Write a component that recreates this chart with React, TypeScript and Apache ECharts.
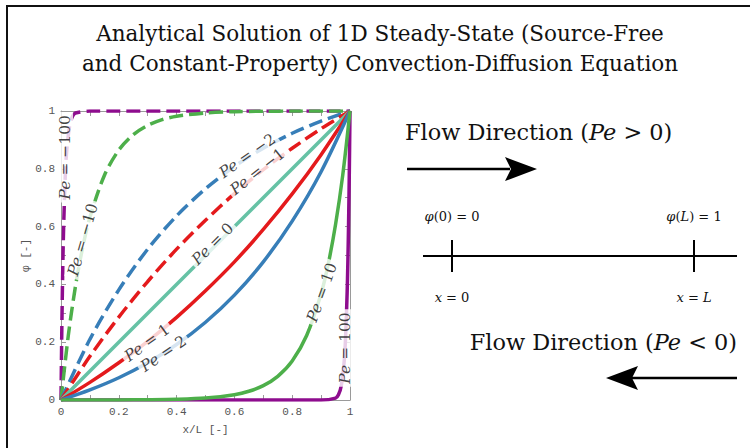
import React, { useEffect, useRef } from "react";
import * as echarts from "echarts";

// Curves: [x/L, phi]
const curvePeM100: [number, number][] = [
  [0, 0], [0.0025, 0.22], [0.005, 0.39], [0.0075, 0.53], [0.01, 0.63], [0.015, 0.78],
  [0.02, 0.865], [0.03, 0.95], [0.04, 0.982], [0.05, 0.993], [0.1, 1], [1, 1],
];
const curvePeM10: [number, number][] = [
  [0, 0], [0.025, 0.221], [0.05, 0.393], [0.075, 0.528], [0.1, 0.632], [0.15, 0.777],
  [0.2, 0.865], [0.25, 0.918], [0.3, 0.95], [0.35, 0.97], [0.4, 0.982], [0.5, 0.993],
  [0.6, 0.9976], [0.7, 0.9991], [0.8, 0.9997], [1, 1],
];
const curvePeM2: [number, number][] = [
  [0, 0], [0.1, 0.21], [0.2, 0.381], [0.3, 0.522], [0.4, 0.637], [0.5, 0.731],
  [0.6, 0.808], [0.7, 0.871], [0.8, 0.923], [0.9, 0.965], [1, 1],
];
const curvePeM1: [number, number][] = [
  [0, 0], [0.1, 0.151], [0.2, 0.287], [0.3, 0.41], [0.4, 0.522], [0.5, 0.622],
  [0.6, 0.714], [0.7, 0.797], [0.8, 0.871], [0.9, 0.939], [1, 1],
];
const curvePe0: [number, number][] = [[0, 0], [1, 1]];
const curvePe1: [number, number][] = [
  [0, 0], [0.1, 0.061], [0.2, 0.129], [0.3, 0.203], [0.4, 0.286], [0.5, 0.378],
  [0.6, 0.478], [0.7, 0.59], [0.8, 0.713], [0.9, 0.849], [1, 1],
];
const curvePe2: [number, number][] = [
  [0, 0], [0.1, 0.035], [0.2, 0.077], [0.3, 0.129], [0.4, 0.192], [0.5, 0.269],
  [0.6, 0.363], [0.7, 0.478], [0.8, 0.619], [0.9, 0.79], [1, 1],
];
const curvePe10: [number, number][] = [
  [0, 0], [0.1, 0.0001], [0.2, 0.0003], [0.3, 0.0009], [0.4, 0.0024], [0.5, 0.0067],
  [0.6, 0.0183], [0.65, 0.0302], [0.7, 0.0498], [0.75, 0.082], [0.8, 0.135], [0.85, 0.223],
  [0.9, 0.368], [0.925, 0.472], [0.95, 0.607], [0.975, 0.779], [1, 1],
];
const curvePe100: [number, number][] = [
  [0, 0], [0.9, 0.00005], [0.95, 0.0067], [0.96, 0.018], [0.97, 0.05], [0.98, 0.135],
  [0.985, 0.223], [0.99, 0.368], [0.9925, 0.472], [0.995, 0.607], [0.9975, 0.779], [1, 1],
];

// Inline label anchors: [x, y, rotation]
const labelPeM100: [number, number, number] = [0.014, 0.84, 90];
const labelPeM10: [number, number, number] = [0.076, 0.555, 74];
const labelPeM2: [number, number, number] = [0.645, 0.845, 35];
const labelPeM1: [number, number, number] = [0.68, 0.79, 38];
const labelPe0: [number, number, number] = [0.525, 0.54, 45];
const labelPe1: [number, number, number] = [0.298, 0.198, 36];
const labelPe2: [number, number, number] = [0.355, 0.16, 34];
const labelPe10: [number, number, number] = [0.903, 0.372, 70];
const labelPe100: [number, number, number] = [0.983, 0.18, 90];

const xTicks = [0, 0.2, 0.4, 0.6, 0.8, 1];

const PURPLE = "#8e0c8e";
const GREEN = "#4daf4a";
const BLUE = "#377eb8";
const RED = "#e41a1c";
const TEAL = "#66c2a5";

const curves = [
  { pe: "\u2212100", data: curvePeM100, color: PURPLE, dashed: true, label: labelPeM100 },
  { pe: "\u221210", data: curvePeM10, color: GREEN, dashed: true, label: labelPeM10 },
  { pe: "\u22122", data: curvePeM2, color: BLUE, dashed: true, label: labelPeM2 },
  { pe: "\u22121", data: curvePeM1, color: RED, dashed: true, label: labelPeM1 },
  { pe: "0", data: curvePe0, color: TEAL, dashed: false, label: labelPe0 },
  { pe: "1", data: curvePe1, color: RED, dashed: false, label: labelPe1 },
  { pe: "2", data: curvePe2, color: BLUE, dashed: false, label: labelPe2 },
  { pe: "100", data: curvePe100, color: PURPLE, dashed: false, label: labelPe100 },
  { pe: "10", data: curvePe10, color: GREEN, dashed: false, label: labelPe10 },
];

const SERIF = "'DejaVu Serif', 'Liberation Serif', serif";
const MONO = "'Liberation Mono', 'DejaVu Sans Mono', monospace";
const AXIS_GRAY = "#9a9a9a";
const LABEL_GRAY = "#555";

export default function App() {
  const ref = useRef<HTMLDivElement>(null);
  useEffect(() => {
    document.body.style.margin = "0";
    const chart = echarts.init(ref.current!, undefined, { renderer: "svg" });

    const axisCommon = (withLabels: boolean, pos: string) => ({
      type: "value",
      min: 0,
      max: 1,
      interval: 0.2,
      position: pos,
      axisLine: { show: true, onZero: false, lineStyle: { color: AXIS_GRAY, width: 1 } },
      axisTick: { show: true, inside: true, length: 5, lineStyle: { color: AXIS_GRAY } },
      minorTick: { show: true, splitNumber: 2, length: 5, lineStyle: { color: AXIS_GRAY } },
      splitLine: { show: false },
      minorSplitLine: { show: false },
      axisLabel: {
        show: withLabels,
        fontFamily: MONO,
        fontSize: 11,
        color: LABEL_GRAY,
        margin: 6,
      },
    });

    const lineSeries = curves.map((c) => ({
      type: "line",
      name: "Pe = " + c.pe,
      data: c.data,
      showSymbol: false,
      smooth: 0.3,
      lineStyle: { color: c.color, width: 3.5, type: c.dashed ? [14, 6] : "solid" },
      z: 2,
    }));

    const labelSeries = curves.map((c) => ({
      type: "scatter",
      data: [[c.label[0], c.label[1]]],
      symbolSize: 0,
      silent: true,
      z: 5,
      label: {
        show: true,
        position: "inside",
        rotate: c.label[2],
        formatter: "{i|Pe}{n| = " + c.pe + "}",
        backgroundColor: "#fff",
        padding: [0, 3],
        rich: {
          i: { fontFamily: SERIF, fontStyle: "italic", fontSize: 15.5, color: "#111" },
          n: { fontFamily: SERIF, fontSize: 15.5, color: "#111" },
        },
      },
    }));

    const TITLE_FONT = "21.5px " + SERIF;
    const FLOW = 22.4;

    chart.setOption({
      animation: false,
      grid: { left: 61, top: 111, width: 289, height: 289, containLabel: false },
      xAxis: [
        {
          ...axisCommon(true, "bottom"),
          name: "x/L [-]",
          nameLocation: "middle",
          nameGap: 24,
          nameTextStyle: { fontFamily: MONO, fontSize: 11, color: LABEL_GRAY },
          axisLabel: {
            show: true,
            fontFamily: MONO,
            fontSize: 11,
            color: LABEL_GRAY,
            margin: 6,
            customValues: xTicks,
          },
        },
        { ...axisCommon(false, "top") },
      ],
      yAxis: [
        {
          ...axisCommon(true, "left"),
          name: "\u03c6 [-]",
          nameLocation: "middle",
          nameGap: 26,
          nameRotate: 90,
          nameTextStyle: { fontFamily: MONO, fontSize: 11, color: LABEL_GRAY },
        },
        { ...axisCommon(false, "right") },
      ],
      series: [...lineSeries, ...labelSeries],
      graphic: [
        {
          type: "rect",
          shape: { x: 7, y: 6, width: 800, height: 500 },
          style: { fill: "none", stroke: "#111", lineWidth: 2 },
          silent: true,
        },
        {
          type: "text",
          x: 380,
          y: 33,
          style: {
            text: "Analytical Solution of 1D Steady-State (Source-Free",
            font: TITLE_FONT,
            fill: "#111",
            align: "center",
            verticalAlign: "middle",
          },
        },
        {
          type: "text",
          x: 380,
          y: 63,
          style: {
            text: "and Constant-Property) Convection-Diffusion Equation",
            font: TITLE_FONT,
            fill: "#111",
            align: "center",
            verticalAlign: "middle",
          },
        },
        {
          type: "text",
          x: 405,
          y: 132,
          style: {
            text: "Flow Direction ({i|Pe} > 0)",
            font: FLOW + "px " + SERIF,
            fill: "#111",
            align: "left",
            verticalAlign: "middle",
            rich: { i: { font: "italic " + FLOW + "px " + SERIF, fill: "#111" } },
          },
        },
        {
          type: "line",
          shape: { x1: 407, y1: 169, x2: 510, y2: 169 },
          style: { stroke: "#000", lineWidth: 2.5 },
        },
        {
          type: "polygon",
          shape: { points: [[537, 169], [505, 157], [511, 169], [505, 181]] },
          style: { fill: "#000" },
        },
        {
          type: "text",
          x: 452,
          y: 216,
          style: {
            text: "{i|\u03c6}(0) = 0",
            font: "13px " + SERIF,
            fill: "#111",
            align: "center",
            verticalAlign: "middle",
            rich: { i: { font: "italic 13px " + SERIF, fill: "#111" } },
          },
        },
        {
          type: "text",
          x: 694,
          y: 216,
          style: {
            text: "{i|\u03c6}({i|L}) = 1",
            font: "13px " + SERIF,
            fill: "#111",
            align: "center",
            verticalAlign: "middle",
            rich: { i: { font: "italic 13px " + SERIF, fill: "#111" } },
          },
        },
        {
          type: "line",
          shape: { x1: 423, y1: 256, x2: 737, y2: 256 },
          style: { stroke: "#000", lineWidth: 2 },
        },
        {
          type: "line",
          shape: { x1: 452, y1: 240, x2: 452, y2: 272 },
          style: { stroke: "#000", lineWidth: 2 },
        },
        {
          type: "line",
          shape: { x1: 694, y1: 240, x2: 694, y2: 272 },
          style: { stroke: "#000", lineWidth: 2 },
        },
        {
          type: "text",
          x: 452,
          y: 297,
          style: {
            text: "{i|x} = 0",
            font: "13px " + SERIF,
            fill: "#111",
            align: "center",
            verticalAlign: "middle",
            rich: { i: { font: "italic 13px " + SERIF, fill: "#111" } },
          },
        },
        {
          type: "text",
          x: 694,
          y: 297,
          style: {
            text: "{i|x} = {i|L}",
            font: "13px " + SERIF,
            fill: "#111",
            align: "center",
            verticalAlign: "middle",
            rich: { i: { font: "italic 13px " + SERIF, fill: "#111" } },
          },
        },
        {
          type: "text",
          x: 737,
          y: 342,
          style: {
            text: "Flow Direction ({i|Pe} < 0)",
            font: FLOW + "px " + SERIF,
            fill: "#111",
            align: "right",
            verticalAlign: "middle",
            rich: { i: { font: "italic " + FLOW + "px " + SERIF, fill: "#111" } },
          },
        },
        {
          type: "line",
          shape: { x1: 632, y1: 378, x2: 737, y2: 378 },
          style: { stroke: "#000", lineWidth: 2.5 },
        },
        {
          type: "polygon",
          shape: { points: [[606, 378], [638, 366], [632, 378], [638, 390]] },
          style: { fill: "#000" },
        },
      ],
    });
    return () => chart.dispose();
  }, []);
  return <div ref={ref} style={{ width: 750, height: 448 }} />;
}
